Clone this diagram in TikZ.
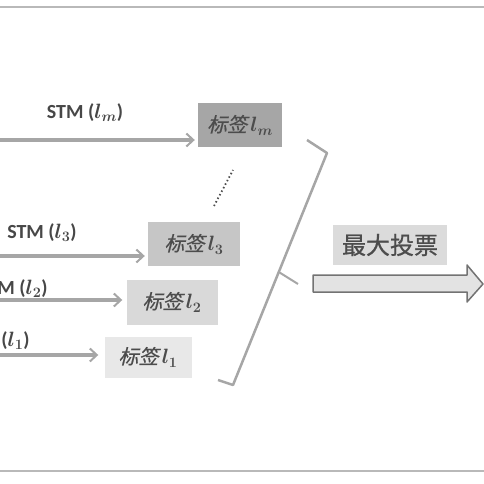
\documentclass[tikz,border=0pt]{standalone}
\usepackage{amsmath,bm}
\usepackage{fontspec}
\setmainfont{Carlito}
\newfontfamily\cjk[FakeSlant=0.25,FakeBold=0.6]{Noto Sans CJK SC}
\newfontfamily\cjkup[FakeBold=0.8]{Noto Sans CJK SC}
\usetikzlibrary{positioning,calc,arrows.meta}

\begin{document}
\begin{tikzpicture}[x=1pt,y=-1pt,
  stm/.style={draw=gray!70,line width=3.5pt,-{Straight Barb[length=7pt,width=13pt,line width=2pt]}},
  stmtext/.style={font=\fontsize{20}{22}\selectfont\bfseries,text=black!72,inner sep=0pt},
  tagbox/.style={inner sep=0pt,minimum width=87,minimum height=43,
    font=\fontsize{20}{22}\selectfont\cjk,text=black!70}]

\useasboundingbox (0,0) rectangle (484,484);
\clip (0,0) rectangle (484,484);

% Frame lines.
\draw[gray!55,line width=2.5pt] (0,7) -- (484,7);
\draw[gray!55,line width=2.5pt] (0,471) -- (484,471);

% Label boxes.
\node[tagbox,fill=gray!70,minimum width=84,minimum height=44]
  (lm) at (240,125) {标签\,$\bm{l_m}$};
\node[tagbox,fill=gray!45,minimum width=92,minimum height=44]
  (l3) at (194,244) {标签\,$\bm{l_3}$};
\node[tagbox,fill=gray!30,minimum width=91,minimum height=45]
  (l2) at (172,302) {标签\,$\bm{l_2}$};
\node[tagbox,fill=gray!18,minimum width=87,minimum height=41]
  (l1) at (148,357) {标签\,$\bm{l_1}$};

% STM arrows.
\coordinate (sm) at (0,140);
\coordinate (s3) at (0,256);
\coordinate (s2) at (0,300);
\coordinate (s1) at (0,355);
\draw[stm,shorten >=3pt] (sm) -- (sm -| lm.west);
\draw[stm,shorten >=3pt] (s3) -- (s3 -| l3.west);
\draw[stm,shorten >=4pt] (s2) -- (s2 -| l2.west);
\draw[stm,shorten >=6pt] (s1) -- (s1 -| l1.west);

\node[stmtext] (tm) at (85,113) {STM ($\bm{l_m}$)};
\node[stmtext] (t3) at (42,233) {STM ($\bm{l_3}$)};
\node[stmtext] (t2) at (13,289) {STM ($\bm{l_2}$)};
\node[stmtext] (t1) at (-5,341) {STM ($\bm{l_1}$)};

% Dots between l_3 and l_m.
\draw[black!70,line width=1.8pt,dash pattern=on 1.5pt off 2.5pt]
  (214,206) -- (233,170);

% Bracket.
\coordinate (bt) at (307,140);
\coordinate (bc) at (327,153);
\coordinate (bb) at (233,385);
\coordinate (be) at (218,380);
\draw[gray!70,line width=2.5pt,line join=round]
  (bt) -- (bc) -- (bb) -- (be);
\draw[gray!70,line width=2pt] ($(bc)!0.513!(bb)$) -- (298,284);

% Vote arrow.
\node[inner sep=0pt,minimum width=114,minimum height=40,fill=gray!28,
  font=\fontsize{24}{26}\selectfont\cjkup,text=black!70]
  (vote) at (390,245) {最大投票};
\draw[black!55,fill=gray!22,line width=1.5pt,line join=round]
  (313,275) -- (467,275) -- (467,265) -- (483,284) -- (467,302)
  -- (467,292) -- (313,292) -- cycle;

\end{tikzpicture}
\end{document}
